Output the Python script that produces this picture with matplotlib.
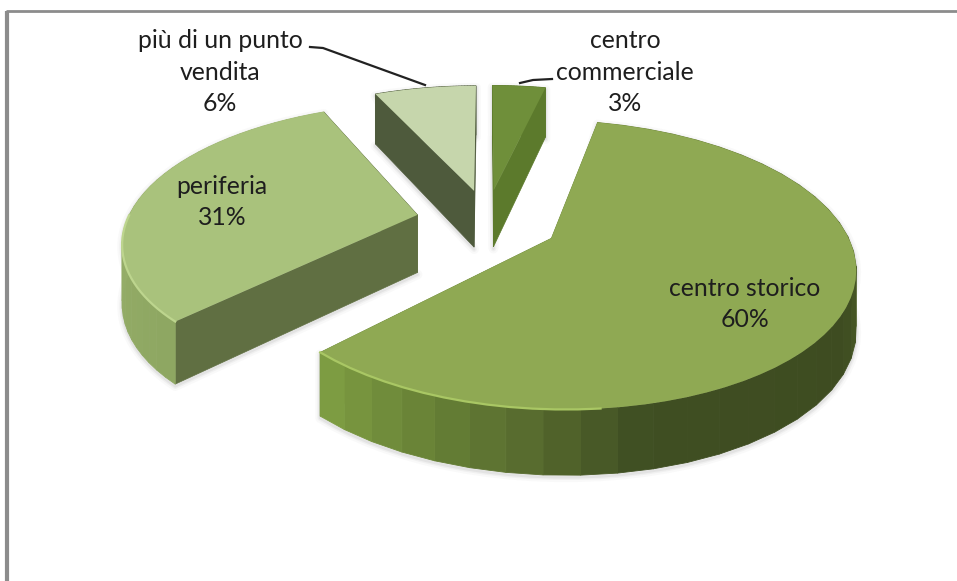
import numpy as np
import matplotlib
matplotlib.use("Agg")
import matplotlib.pyplot as plt
from matplotlib.colors import LinearSegmentedColormap

categories = ["centro\ncommerciale", "centro storico", "periferia", "più di un punto\nvendita"]
values = [3, 60, 31, 6]

# styling per slice
TOP_COLORS = ["#6f8f3a", "#8fa953", "#a9c27c", "#c6d6ac"]
FACE_COLORS = ["#5c7a2c", "#6f8b3a", "#606f42", "#4e5a3c"]
RIM_COLORS = ["#7f9f48", "#a9c764", "#bdd58e", "#d5e3bf"]
WALL_STOPS = [
    [(0, "#5c7a2c"), (1, "#5c7a2c")],
    [(0, "#6d8536"), (0.37, "#55692c"), (0.5, "#3e4c21"), (0.74, "#3f4e22"),
     (0.79, "#4d5f29"), (0.84, "#5a6f30"), (0.91, "#688236"), (1, "#7d9c42")],
    [(0, "#8ea762"), (1, "#a0b873")],
    [(0, "#4e5a3c"), (1, "#4e5a3c")],
]
LABEL_POS = [(625, 72), (745, 304), (222, 202), (220, 72)]

# projection fitted to the reference, pixels
X0, Y0 = 487.0, 222.0
RX, RY = 291.0, 134.0
PERSP = 0.179
EXPLODE = 0.247
# the reference's 3D view skews the slice boundaries a little, in degrees
EDGE_SKEW = np.array([0, 2.0, -2.0, -3.0, 0])


def project(u, v):
    w = 1 + PERSP * v
    return X0 + RX * u / w, Y0 - RY * v / w


def depth(v):
    return 58 - 7 * v


def slice_points(theta, mid):
    # theta clockwise from 12 o'clock, in radians
    u = EXPLODE * np.sin(mid) + np.sin(theta)
    v = EXPLODE * np.cos(mid) + np.cos(theta)
    return u, v


def halo(ax, xs, ys):
    for lw, alpha in [(7, 0.03), (4, 0.05), (2, 0.08)]:
        ax.fill(xs, np.asarray(ys) + 2, facecolor="none", edgecolor="#555555",
                lw=lw, alpha=alpha, joinstyle="round", zorder=1)


fig = plt.figure(figsize=(9.57, 5.81), dpi=100)
ax = fig.add_axes([0, 0, 1, 1])
ax.set_xlim(0, 957)
ax.set_ylim(581, 0)
ax.axis("off")

# chart frame, only top and left survive in the crop
ax.plot([7, 7], [11, 581], color="#8c8c8c", lw=3, solid_capstyle="butt")
ax.plot([6, 957], [11, 11], color="#8c8c8c", lw=2, solid_capstyle="butt")

true_edges = np.cumsum([0] + values) * 360 / sum(values)
edges = np.radians(true_edges + EDGE_SKEW)

for i in [2, 3, 0, 1]:
    start, stop = edges[i], edges[i + 1]
    mid = np.radians((true_edges[i] + true_edges[i + 1]) / 2)
    zo = 2 + i

    theta = np.linspace(start, stop, 60)
    u, v = slice_points(theta, mid)
    ax_u, ax_v = EXPLODE * np.sin(mid), EXPLODE * np.cos(mid)
    apex = project(ax_u, ax_v)
    ax_d = depth(ax_v)
    x, y = project(u, v)
    d = depth(v)

    top_x = np.r_[apex[0], x]
    top_y = np.r_[apex[1], y]
    # soft shadow round the whole solid
    halo(ax, np.r_[apex[0], x, x[::-1]], np.r_[apex[1] + ax_d, y + d, y[::-1]])

    # radial walls
    for j in [0, -1]:
        ax.fill([apex[0], x[j], x[j], apex[0]],
                [apex[1], y[j], y[j] + d[j], apex[1] + ax_d],
                color=FACE_COLORS[i], lw=0.5, zorder=zo)

    # outer wall, stepped shading along the arc
    cmap = LinearSegmentedColormap.from_list("wall", WALL_STOPS[i])
    steps = 36
    tw = np.linspace(start, stop, steps + 1)
    uw, vw = slice_points(tw, mid)
    xw, yw = project(uw, vw)
    dw = depth(vw)
    for k in range(steps):
        ax.fill([xw[k], xw[k + 1], xw[k + 1], xw[k]],
                [yw[k], yw[k + 1], yw[k + 1] + dw[k + 1], yw[k] + dw[k]],
                color=cmap(k / (steps - 1)), lw=0.6, zorder=zo)

    ax.fill(top_x, top_y, color=TOP_COLORS[i], lw=0, zorder=zo + 0.1)

    # bevel highlight along the front left rim
    front = (np.cos(theta) < 0.0) & (np.sin(theta) < 0.15)
    if front.any():
        ax.plot(x[front], y[front], color=RIM_COLORS[i], lw=1.6, zorder=zo + 0.2)

# leader lines
ax.plot([310, 323, 425], [47, 48, 85], color="#222222", lw=1.6, zorder=8)
ax.plot([552, 533, 520], [79, 80, 83], color="#222222", lw=1.6, zorder=8)

for name, val, (tx, ty) in zip(categories, values, LABEL_POS):
    ax.text(tx, ty, f"{name}\n{val}%", ha="center", va="center", family="Lato",
            fontsize=17.8, color="#1e1e1e", linespacing=1.45, zorder=9)

fig.savefig("out.png", dpi=100, facecolor="white")
plt.close(fig)
